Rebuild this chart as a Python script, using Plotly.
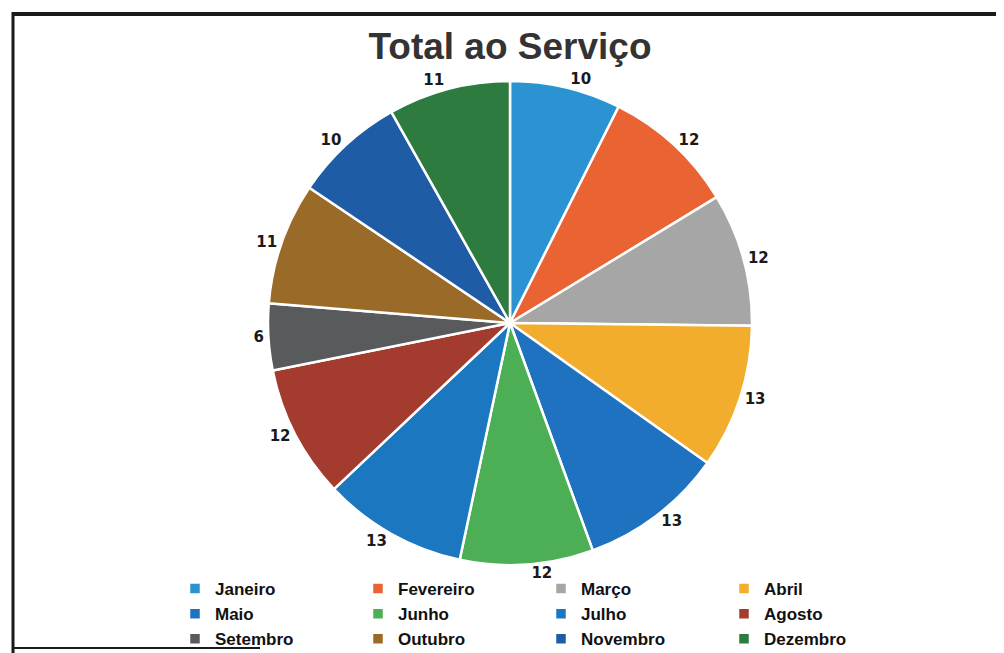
import plotly.graph_objects as go

months = ["Janeiro", "Fevereiro", "Março", "Abril", "Maio", "Junho",
          "Julho", "Agosto", "Setembro", "Outubro", "Novembro", "Dezembro"]
values = [10, 12, 12, 13, 13, 12, 13, 12, 6, 11, 10, 11]
colors = ["#2b93d1", "#ea6333", "#a6a6a6", "#f3ad2c", "#1f72bf", "#4caf55",
          "#1b77c0", "#a33c2f", "#585a5c", "#9a6b28", "#1f5ca6", "#2e7b3f"]

label_font = dict(family="DejaVu Sans", size=15, color="#1a1a1a", weight="bold")

W, H = 1004, 653
B = 50
R_M = 200
PW = W - R_M   # plot-area width in px
PH = H - B     # plot-area height in px
OFF = 8        # page body offset


def px(x):
    return (x - OFF) / PW


def py(y_from_top):
    return 1 - (y_from_top - OFF) / PH


CX, CY, HALF = 510, 323, 242

fig = go.Figure(go.Pie(
    labels=months,
    values=values,
    sort=False,
    direction="clockwise",
    rotation=0,
    marker=dict(colors=colors, line=dict(color="white", width=2.5)),
    textinfo="value",
    textposition="outside",
    textfont=label_font,
    outsidetextfont=label_font,
    domain=dict(x=[px(CX - HALF), px(CX + HALF)], y=[py(CY + HALF), py(CY - HALF)]),
    hoverinfo="label+value",
))

fig.update_layout(
    width=W, height=H,
    margin=dict(l=0, r=R_M, t=0, b=B, autoexpand=False),
    paper_bgcolor="white",
    title=dict(text="<b>Total ao Serviço</b>", x=(510 - OFF) / W, xanchor="center",
               y=1 - (46 - OFF) / H, yanchor="middle",
               font=dict(family="Liberation Sans, Arial", size=37, color="#333333")),
    showlegend=True,
    legend=dict(orientation="h", x=px(175), xanchor="left", y=py(571), yanchor="top",
                entrywidth=138, entrywidthmode="pixels",
                font=dict(family="Liberation Sans, Arial", size=17, color="#111111",
                          weight="bold"),
                tracegroupgap=0, itemwidth=30,
                bgcolor="rgba(0,0,0,0)"),
    shapes=[
        dict(type="line", xref="paper", yref="paper", x0=px(12), x1=px(W + OFF),
             y0=py(14), y1=py(14), line=dict(color="#1a1a1a", width=4)),
        dict(type="line", xref="paper", yref="paper", x0=px(13), x1=px(13),
             y0=py(H + OFF), y1=py(12), line=dict(color="#1a1a1a", width=3)),
        dict(type="line", xref="paper", yref="paper", x0=px(12), x1=px(260),
             y0=py(648), y1=py(648), line=dict(color="#1a1a1a", width=2)),
    ],
)

fig.write_html("out.html")
